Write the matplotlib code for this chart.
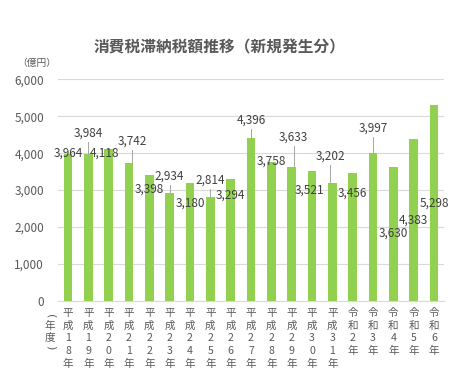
import matplotlib
matplotlib.use("Agg")
import matplotlib.pyplot as plt

plt.rcParams['font.family'] = ['Noto Sans CJK JP', 'DejaVu Sans']

years = ['平成18年', '平成19年', '平成20年', '平成21年', '平成22年', '平成23年',
         '平成24年', '平成25年', '平成26年', '平成27年', '平成28年', '平成29年',
         '平成30年', '平成31年', '令和2年', '令和3年', '令和4年', '令和5年', '令和6年']
values = [3964, 3984, 4118, 3742, 3398, 2934, 3180, 2814, 3294, 4396,
          3758, 3633, 3521, 3202, 3456, 3997, 3630, 4383, 5298]
# where the data labels sit (value units), as placed in the original
label_y = [4005, 4547, 4005, 4330, 3031, 3383, 2652, 3275, 2869, 4898,
           3789, 4438, 3004, 3924, 2923, 4682, 1840, 2192, 2652]
label_dx = [0, 0, -0.2, 0.15, 0, 0, 0, 0, 0, 0,
            0, 0.1, -0.1, -0.1, 0, 0, 0, 0, 0]
leader = [False, True, False, True, False, True, False, True, False, True,
          False, True, False, True, False, True, False, False, False]
yticks = [0, 1000, 2000, 3000, 4000, 5000, 6000]

grey = '#595959'
fig = plt.figure(figsize=(4.74, 3.92), dpi=100)
ax = fig.add_axes([0.122, 0.232, 0.815, 0.566])

x = list(range(len(years)))
ax.bar(x, values, width=0.42, color='#92D050', zorder=3)

for i, v in enumerate(values):
    ax.text(i + label_dx[i], label_y[i], f'{v:,}', ha='center', va='center',
            fontsize=8.5, color='#404040', zorder=4)
    if leader[i]:
        ax.plot([i + label_dx[i], i + label_dx[i]], [label_y[i] - 250, v],
                color='#A6A6A6', lw=0.7, zorder=4)

ax.set_xlim(-0.5, len(years) - 0.5)
ax.set_ylim(0, 6000)
ax.set_yticks(yticks)
ax.set_yticklabels([f'{t:,}' for t in yticks], fontsize=8.5, color=grey)
ax.grid(axis='y', color='#D9D9D9', lw=0.8, zorder=0)
ax.set_xticks(x)
ax.set_xticklabels(['\n'.join(y) for y in years], fontsize=7.6, color=grey,
                   linespacing=1.32, va='top')
ax.tick_params(length=0, pad=10)
ax.tick_params(axis='x', pad=5)
for s in ['top', 'right', 'left']:
    ax.spines[s].set_visible(False)
ax.spines['bottom'].set_color('#D9D9D9')

fig.text(0.464, 0.88, '消費税滞納税額推移（新規発生分）', ha='center', va='center',
         fontsize=11.3, fontweight='bold', color=grey)
fig.text(0.036, 0.84, '（億円）', ha='left', va='center', fontsize=7, color=grey)

# vertical "(年度)" axis caption
fig.text(0.106, 0.193, '(', rotation=-90, ha='center', va='center', fontsize=8,
         color=grey, family='DejaVu Sans')
fig.text(0.106, 0.168, '年', ha='center', va='center', fontsize=7.6, color=grey)
fig.text(0.106, 0.140, '度', ha='center', va='center', fontsize=7.6, color=grey)
fig.text(0.106, 0.114, ')', rotation=-90, ha='center', va='center', fontsize=8,
         color=grey, family='DejaVu Sans')

fig.savefig('out.png', dpi=100)
